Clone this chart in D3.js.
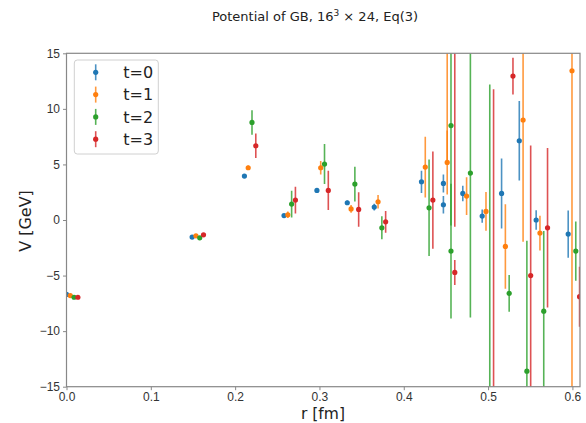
<!DOCTYPE html>
<html>
<head>
<meta charset="utf-8">
<script src="https://cdn.jsdelivr.net/npm/d3@7"></script>
<style>
  body { margin: 0; background: #fff; }
  svg { display: block; font-family: "DejaVu Sans", sans-serif; }
</style>
</head>
<body>
<svg id="viz"></svg>
<script>
// distances r [fm] (two entries at 0.447)
const rValues = [0, 0.149, 0.211, 0.258, 0.297, 0.333, 0.365, 0.421, 0.447, 0.447, 0.470, 0.493, 0.516, 0.537, 0.557, 0.595];
const seriesNames = ["t=0", "t=1", "t=2", "t=3"];
const seriesShift = [0, 0.0045, 0.009, 0.0135];
const colors = ["#1f77b4", "#ff7f0e", "#2ca02c", "#d62728"];

const v0 = [-6.7, -1.54, 3.95, 0.4, 2.66, 1.55, 1.16, 3.44, 3.29, 1.37, 2.39, 0.35, 2.39, 7.13, 0.0, -1.27];
const e0 = [0.1, 0.15, 0.1, 0.15, 0.2, 0.2, 0.3, 1.0, 0.81, 0.78, 0.7, 0.6, 3.15, 3.57, 0.87, 2.13];
const v1 = [-6.8, -1.42, 4.7, 0.47, 4.7, 1.0, 1.64, 4.76, 5.18, 20, 2.15, 0.77, -2.38, 9.0, -1.18, 13.43];
const e1 = [0.1, 0.15, 0.2, 0.3, 0.6, 0.35, 0.6, 2.73, 2.88, 15, 1.7, 1.74, 3.8, 10.96, 1.57, 30];
const v2 = [-6.95, -1.6, 8.78, 1.43, 5.03, 3.23, -0.7, 1.1, 8.5, -2.8, 4.22, -16, -6.6, -13.6, -8.2, -2.8];
const e2 = [0.1, 0.15, 1.1, 1.2, 1.8, 1.56, 1.03, 4.35, 9, 6.06, 13, 28.2, 1.65, 11.73, 7.2, 2.67];
const v3 = [-6.95, -1.33, 6.68, 1.79, 2.66, 0.95, -0.16, 1.79, -4.72, 17, null, -17, 12.95, -5.0, -0.7, -6.9];
const e3 = [0.1, 0.15, 1.1, 1.2, 1.77, 1.55, 0.98, 4.37, 1.12, 17.6, null, 28.76, 1.65, 11.7, 7.17, 2.7];

const xTicks = [0, 0.1, 0.2, 0.3, 0.4, 0.5, 0.6];
const yTicks = [-15, -10, -5, 0, 5, 10, 15];

const width = 586, height = 423;
const margin = { left: 66.5, right: 6, top: 53.3, bottom: 36.3 };

const svg = d3.select("#viz").attr("width", width).attr("height", height);

const x = d3.scaleLinear().domain([0, 0.609]).range([margin.left, width - margin.right]);
const y = d3.scaleLinear().domain([-15, 15]).range([height - margin.bottom, margin.top]);

const series = [[v0, e0], [v1, e1], [v2, e2], [v3, e3]].map(([v, e], i) => ({
  name: seriesNames[i],
  color: colors[i],
  points: rValues.map((r, k) => ({ r: r + seriesShift[i], v: v[k], e: e[k] }))
    .filter(p => p.v !== null)
}));

svg.append("defs").append("clipPath").attr("id", "plotclip")
  .append("rect")
  .attr("x", x.range()[0]).attr("y", y.range()[1])
  .attr("width", x.range()[1] - x.range()[0])
  .attr("height", y.range()[0] - y.range()[1]);

// data
const plot = svg.append("g").attr("clip-path", "url(#plotclip)");
series.forEach(s => {
  const g = plot.append("g");
  g.selectAll("line")
    .data(s.points)
    .join("line")
    .attr("x1", d => x(d.r)).attr("x2", d => x(d.r))
    .attr("y1", d => y(d.v - d.e)).attr("y2", d => y(d.v + d.e))
    .attr("stroke", s.color)
    .attr("stroke-width", 1.6)
    .attr("stroke-opacity", 0.8);
  g.selectAll("circle")
    .data(s.points)
    .join("circle")
    .attr("cx", d => x(d.r)).attr("cy", d => y(d.v))
    .attr("r", 2.6)
    .attr("fill", s.color);
});

// axes
const xAxis = svg.append("g")
  .attr("transform", `translate(0,${y.range()[0]})`)
  .call(d3.axisBottom(x).tickValues(xTicks).tickFormat(d3.format(".1f")).tickSize(3.5).tickPadding(2.5));
const yAxis = svg.append("g")
  .attr("transform", `translate(${x.range()[0]},0)`)
  .call(d3.axisLeft(y).tickValues(yTicks).tickFormat(d => d < 0 ? "\u2212" + Math.abs(d) : d).tickSize(3.5).tickPadding(3));

[xAxis, yAxis].forEach(a => {
  a.select(".domain").remove();
  a.selectAll(".tick line").attr("stroke", "#888");
  a.selectAll(".tick text").attr("fill", "#333").style("font-size", "12px");
});

// frame
svg.append("rect")
  .attr("x", x.range()[0]).attr("y", y.range()[1])
  .attr("width", x.range()[1] - x.range()[0])
  .attr("height", y.range()[0] - y.range()[1])
  .attr("fill", "none").attr("stroke", "#888").attr("stroke-width", 1.2);

// labels
svg.append("text")
  .attr("x", 323).attr("y", 419)
  .attr("text-anchor", "middle")
  .style("font-size", "15.5px").attr("fill", "#222")
  .text("r [fm]");

svg.append("text")
  .attr("transform", "translate(31,221) rotate(-90)")
  .attr("text-anchor", "middle")
  .style("font-size", "16px").attr("fill", "#222")
  .text("V [GeV]");

const title = svg.append("text")
  .attr("x", 315).attr("y", 21)
  .attr("text-anchor", "middle")
  .style("font-size", "13px").attr("fill", "#222");
title.append("tspan").text("Potential of GB, 16");
title.append("tspan").attr("dy", -5).style("font-size", "9px").text("3");
title.append("tspan").attr("dy", 5).text(" \u00d7 24, Eq(3)");

// legend
const legend = svg.append("g");
legend.append("rect")
  .attr("x", 74.3).attr("y", 60)
  .attr("width", 84).attr("height", 94)
  .attr("rx", 3)
  .attr("fill", "#fff").attr("fill-opacity", 0.8)
  .attr("stroke", "#d0d0d0");

const item = legend.selectAll("g.item")
  .data(series)
  .join("g")
  .attr("class", "item")
  .attr("transform", (d, i) => `translate(95.7,${72.3 + i * 22.3})`);
item.append("line")
  .attr("y1", -8).attr("y2", 8)
  .attr("stroke", d => d.color).attr("stroke-width", 1.6).attr("stroke-opacity", 0.8);
item.append("circle").attr("r", 2.6).attr("fill", d => d.color);
item.append("text")
  .attr("x", 27.5).attr("dy", "0.36em")
  .style("font-size", "16px").attr("fill", "#222")
  .text(d => d.name);
</script>
</body>
</html>
